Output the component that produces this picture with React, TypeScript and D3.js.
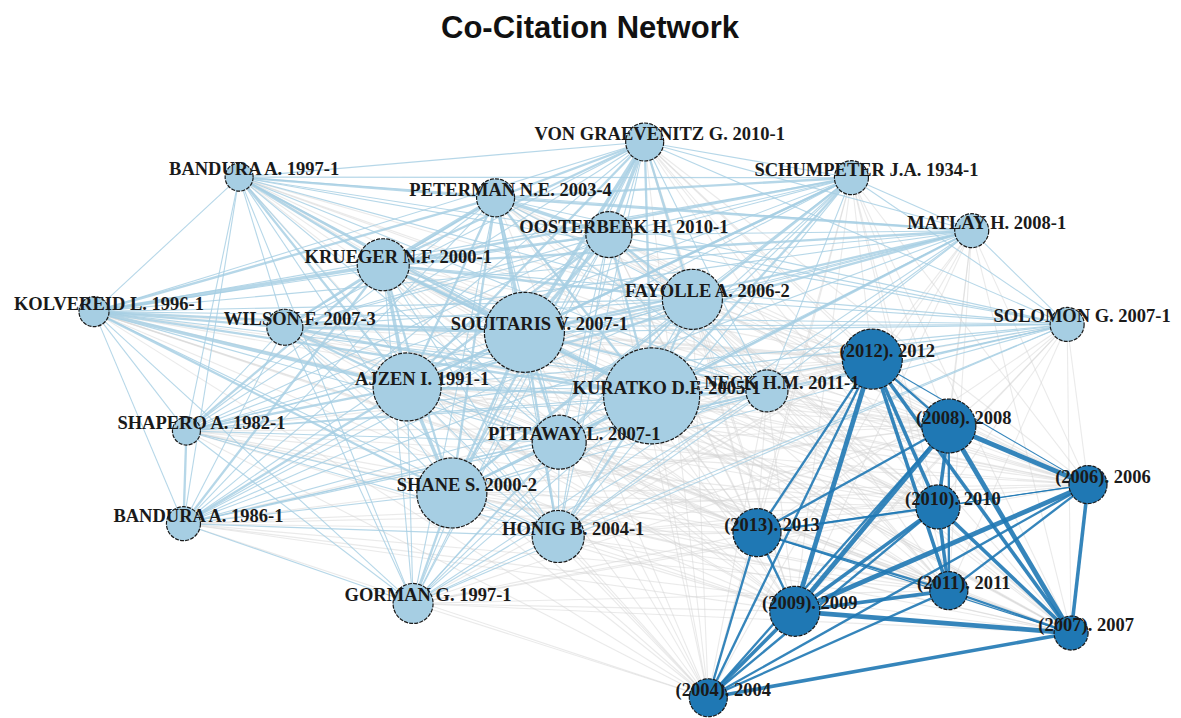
import React from 'react';
import * as d3 from 'd3';

const chartTitle = 'Co-Citation Network';

// vertices: label, layout position (0..1), size, cluster
const nodeLabels = [
  'BANDURA A. 1997-1', 'VON GRAEVENITZ G. 2010-1', 'SCHUMPETER J.A. 1934-1', 'PETERMAN N.E. 2003-4',
  'OOSTERBEEK H. 2010-1', 'MATLAY H. 2008-1', 'KRUEGER N.F. 2000-1', 'FAYOLLE A. 2006-2',
  'KOLVEREID L. 1996-1', 'WILSON F. 2007-3', 'SOUITARIS V. 2007-1', 'SOLOMON G. 2007-1',
  'AJZEN I. 1991-1', 'KURATKO D.F. 2005-1', 'NECK H.M. 2011-1', 'SHAPERO A. 1982-1',
  'PITTAWAY L. 2007-1', 'SHANE S. 2000-2', 'BANDURA A. 1986-1', 'HONIG B. 2004-1',
  'GORMAN G. 1997-1',
  '(2012). 2012', '(2008). 2008', '(2006). 2006', '(2010). 2010', '(2013). 2013',
  '(2011). 2011', '(2009). 2009', '(2007). 2007', '(2004). 2004',
];
const nodeX = [
  0.146, 0.554, 0.762, 0.404, 0.518, 0.883, 0.291, 0.602, 0.0, 0.192, 0.433,
  0.979, 0.315, 0.561, 0.677, 0.093, 0.468, 0.360, 0.090, 0.467, 0.321,
  0.783, 0.860, 1.0, 0.849, 0.667, 0.860, 0.705, 0.983, 0.618,
];
const nodeY = [
  0.063, 0.0, 0.064, 0.100, 0.166, 0.159, 0.220, 0.282, 0.304, 0.332, 0.341,
  0.327, 0.439, 0.455, 0.446, 0.518, 0.538, 0.629, 0.684, 0.707, 0.827,
  0.389, 0.509, 0.614, 0.654, 0.700, 0.804, 0.841, 0.880, 0.996,
];
const nodeSize = [
  14, 19, 17, 19, 23, 17, 26, 30, 15, 18, 40, 17, 34, 48, 21, 14, 27, 35, 17, 26, 20,
  30, 27, 19, 22, 24, 19, 25, 17, 19,
];
const nodeCluster = [
  1, 1, 1, 1, 1, 1, 1, 1, 1, 1, 1, 1, 1, 1, 1, 1, 1, 1, 1, 1, 1,
  2, 2, 2, 2, 2, 2, 2, 2, 2,
];

// co-citation strength, upper triangle: row i lists vertices i+1 .. 29 (0 = no link)
const weightRows = [
  '11211211121211111111 111111111',
  '1231221131221112111 111111111',
  '211211121221112111 111111111',
  '32312131221112111 111111111',
  '1221131221111111 111111111',
  '211121221111111 111111111',
  '23231321212211 111111111',
  '1121121111111 111111111',
  '221321112111 111111111',
  '21221111111 111111111',
  '1232122121 211111111',
  '111111111 111111111',
  '21213211 111111111',
  '2122121 211111111',
  '111111 111111111',
  '11211 111111111',
  '1111 111111111',
  '112 111111111',
  '11 111111111',
  '1 111111111',
  '111111111',
  '21323432',
  '4322442',
  '112432',
  '23332',
  '2212',
  '322',
  '43',
  '3',
];

const clusterFill: Record<number, string> = { 1: '#a6cee3', 2: '#1f78b4' };

export default function App() {
  const width = 1181;
  const height = 718;

  const x = d3.scaleLinear().domain([0, 1]).range([94, 1088]);
  const y = d3.scaleLinear().domain([0, 1]).range([142, 700]);
  const r = d3.scaleLinear().domain([0, 48]).range([0, 48]);
  const w = d3.scaleLinear().domain([1, 4]).range([1.1, 4.8]);

  const nodes = nodeLabels.map((label, i) => ({
    label,
    cx: x(nodeX[i]),
    cy: y(nodeY[i]),
    r: r(nodeSize[i]),
    cluster: nodeCluster[i],
  }));

  const edges: { s: number; t: number; weight: number; kind: string }[] = [];
  weightRows.forEach((row, i) => {
    row.replace(/\s/g, '').split('').forEach((ch, k) => {
      const weight = +ch;
      const j = i + 1 + k;
      if (!weight) return;
      const a = nodeCluster[i], b = nodeCluster[j];
      const kind = a !== b ? 'cross' : a === 1 ? 'light' : 'dark';
      edges.push({ s: i, t: j, weight, kind });
    });
  });

  const edgeStyle: Record<string, { color: string; opacity: number }> = {
    cross: { color: '#d6d6d6', opacity: 0.5 },
    light: { color: '#a6cee3', opacity: 0.82 },
    dark: { color: '#1f78b4', opacity: 0.9 },
  };

  const drawEdges = (kind: string) =>
    edges.filter(e => e.kind === kind).map((e, k) => (
      <line
        key={`${kind}-${k}`}
        x1={nodes[e.s].cx}
        y1={nodes[e.s].cy}
        x2={nodes[e.t].cx}
        y2={nodes[e.t].cy}
        stroke={edgeStyle[kind].color}
        strokeOpacity={edgeStyle[kind].opacity}
        strokeWidth={w(e.weight)}
      />
    ));

  return (
    <svg
      width={width}
      height={height}
      style={{ position: 'absolute', left: 0, top: 0, background: '#fff' }}
    >
      <text
        x={590}
        y={38}
        textAnchor="middle"
        fontFamily="'Liberation Sans', Arial, sans-serif"
        fontWeight="bold"
        fontSize={31}
        fill="#111"
      >
        {chartTitle}
      </text>
      <g>{drawEdges('cross')}</g>
      <g>{drawEdges('light')}</g>
      <g>{drawEdges('dark')}</g>
      <g>
        {nodes.map(n => (
          <circle
            key={n.label}
            cx={n.cx}
            cy={n.cy}
            r={n.r}
            fill={clusterFill[n.cluster]}
            stroke="#1a1a1a"
            strokeWidth={1.2}
            strokeDasharray="4 1.2"
          />
        ))}
      </g>
      <g
        fontFamily="'Liberation Serif', 'Times New Roman', serif"
        fontWeight="bold"
        fontSize={18.5}
        fill="#1a1a1a"
        textAnchor="middle"
      >
        {nodes.map(n => (
          <text key={n.label} x={n.cx + 15} y={n.cy - 8} dominantBaseline="central">
            {n.label}
          </text>
        ))}
      </g>
    </svg>
  );
}
